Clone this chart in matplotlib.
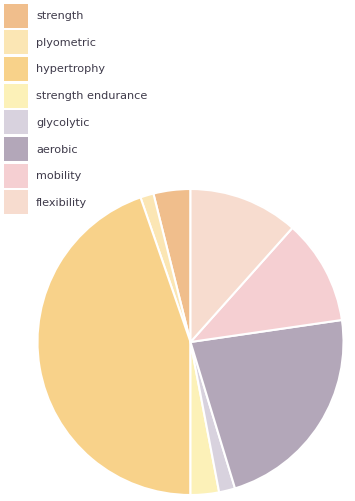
import matplotlib.pyplot as plt
from matplotlib.patches import Rectangle

# Training focus breakdown (percent)
labels = ['strength', 'plyometric', 'hypertrophy', 'strength endurance',
          'glycolytic', 'aerobic', 'mobility', 'flexibility']
values = [3.9, 1.4, 44.7, 3.0, 1.7, 22.6, 11.1, 11.6]
colors = ['#F0BE8C', '#FBE6B4', '#F8D28A', '#FCF1B8',
          '#D8D2DE', '#B3A7B9', '#F5CFD2', '#F7DCCF']

W, H = 355, 501
fig = plt.figure(figsize=(W / 100, H / 100), dpi=100)
ax = fig.add_axes([0, 0, 1, 1])

# pie, starting at 12 o'clock and going counter-clockwise
ax.pie(values, colors=colors, startangle=90, counterclock=True,
       center=(190.5, H - 342), radius=153, frame=True,
       wedgeprops=dict(edgecolor='white', linewidth=1.5))
ax.set_xlim(0, W)
ax.set_ylim(0, H)
ax.set_aspect('equal')
ax.axis('off')

# legend drawn by hand at top left
for i, (lab, col) in enumerate(zip(labels, colors)):
    top = H - 3.5 - i * 26.7
    ax.add_patch(Rectangle((4, top - 24), 24, 24, facecolor=col, edgecolor='none'))
    ax.text(36, top - 12.5, lab, fontsize=8.1, color='#3E3A4A',
            va='center', ha='left', family='DejaVu Sans')

fig.savefig('out.png', dpi=100)
